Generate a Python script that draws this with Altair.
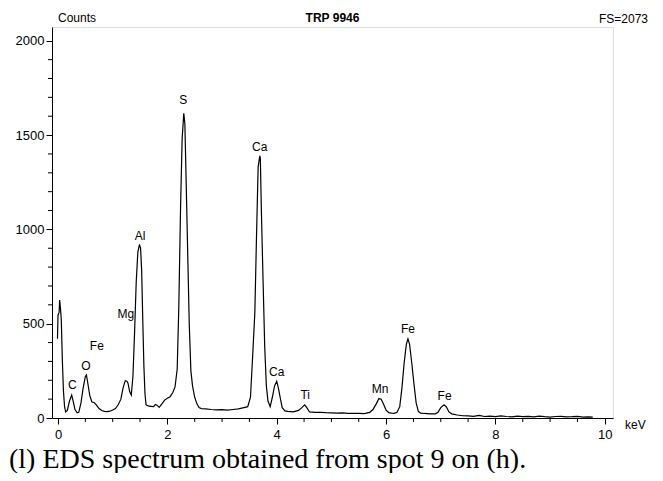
import altair as alt
import pandas as pd

# spectrum (keV, counts)
kev = [-0.01, 0.0, 0.02, 0.03, 0.045, 0.06, 0.08, 0.10, 0.12, 0.14, 0.17, 0.21, 0.25, 0.28, 0.31, 0.35,
       0.38, 0.42, 0.46, 0.50, 0.52, 0.55, 0.58, 0.62, 0.66, 0.70, 0.75, 0.80, 0.85, 0.90, 0.95, 1.00,
       1.05, 1.10, 1.15, 1.19, 1.23, 1.26, 1.28, 1.31, 1.34, 1.37, 1.40, 1.43, 1.46, 1.49, 1.51, 1.53,
       1.55, 1.57, 1.59, 1.61, 1.65, 1.70, 1.75, 1.78, 1.81, 1.85, 1.90, 1.95, 2.00, 2.05, 2.10, 2.14,
       2.18, 2.21, 2.24, 2.27, 2.30, 2.32, 2.34, 2.37, 2.40, 2.43, 2.46, 2.50, 2.54, 2.58, 2.62, 2.70,
       2.80, 2.90, 3.00, 3.10, 3.20, 3.30, 3.40, 3.47, 3.52, 3.56, 3.60, 3.63, 3.66, 3.69, 3.70, 3.72,
       3.75, 3.78, 3.81, 3.84, 3.88, 3.92, 3.96, 4.00, 4.03, 4.06, 4.10, 4.15, 4.20, 4.30, 4.40, 4.46,
       4.51, 4.55, 4.60, 4.70, 4.80, 4.90, 5.00, 5.10, 5.20, 5.30, 5.40, 5.50, 5.60, 5.70, 5.76, 5.82,
       5.87, 5.91, 5.95, 6.00, 6.05, 6.10, 6.15, 6.20, 6.25, 6.29, 6.33, 6.37, 6.40, 6.43, 6.47, 6.51,
       6.55, 6.59, 6.63, 6.70, 6.80, 6.90, 6.95, 7.00, 7.06, 7.10, 7.15, 7.20, 7.30, 7.40, 7.50, 7.60,
       7.70, 7.80, 7.90, 8.00, 8.10, 8.20, 8.30, 8.40, 8.50, 8.60, 8.70, 8.80, 8.90, 9.00, 9.10, 9.20,
       9.30, 9.40, 9.50, 9.60, 9.70, 9.78]
counts = [420, 545, 560, 625, 580, 520, 300, 140, 60, 32, 40, 90, 122, 85, 45, 28,
          30, 80, 160, 220, 228, 175, 120, 85, 82, 70, 50, 40, 35, 34, 36, 42,
          50, 70, 100, 160, 198, 195, 185, 140, 122, 220, 450, 720, 880, 920, 900, 780,
          520, 280, 130, 70, 64, 62, 60, 72, 68, 56, 75, 95, 105, 113, 135, 165,
          260, 600, 1100, 1480, 1615, 1560, 1300, 900, 500, 250, 170, 110, 75, 55, 50, 48,
          45, 43, 44, 42, 45, 48, 55, 60, 110, 330, 560, 960, 1330, 1390, 1380, 1090,
          730, 380, 170, 90, 60, 110, 170, 195, 160, 113, 55, 38, 35, 33, 40, 55,
          70, 55, 32, 30, 30, 28, 27, 26, 27, 25, 24, 24, 23, 30, 45, 75,
          103, 100, 75, 42, 28, 26, 25, 30, 60, 160, 290, 390, 420, 390, 290, 180,
          80, 35, 26, 24, 22, 22, 30, 55, 70, 60, 32, 22, 16, 12, 11, 9,
          14, 8, 10, 7, 11, 8, 6, 10, 7, 9, 6, 10, 7, 5, 8, 9,
          6, 7, 9, 5, 6, 5]

# element labels
el_names = ["C", "O", "Fe", "Mg", "Al", "S", "Ca", "Ca", "Ti", "Mn", "Fe", "Fe"]
el_kev = [0.26, 0.51, 0.71, 1.24, 1.50, 2.29, 3.69, 4.00, 4.52, 5.89, 6.40, 7.07]
el_cnt = [175, 276, 382, 552, 966, 1688, 1438, 246, 122, 152, 471, 117]

x_major = [0, 2, 4, 6, 8, 10]
x_minor = [0.5, 1, 1.5, 2.5, 3, 3.5, 4.5, 5, 5.5, 6.5, 7, 7.5, 8.5, 9, 9.5]
y_major = [0, 500, 1000, 1500, 2000]
y_minor = [100, 200, 300, 400, 600, 700, 800, 900, 1100, 1200, 1300, 1400,
           1600, 1700, 1800, 1900]

FONT = "Liberation Sans Narrow, Arial Narrow, Liberation Sans, sans-serif"
W, H = 561, 391

spec = pd.DataFrame({"keV": kev, "Counts": counts})
labels = pd.DataFrame({"name": el_names, "keV": el_kev, "Counts": el_cnt})

xs = alt.Scale(domain=[-0.11, 10.15], nice=False, zero=False)
ys = alt.Scale(domain=[0, 2073], nice=False, zero=True)

line = alt.Chart(spec).mark_line(color="black", strokeWidth=1.2).encode(
    x=alt.X("keV:Q", scale=xs,
            axis=alt.Axis(values=x_major, title=None, grid=False, tickSize=6, labelPadding=4,
                          format="d", labelFont=FONT, labelFontSize=13, labelColor="black",
                          tickColor="black", domainColor="black")),
    y=alt.Y("Counts:Q", scale=ys,
            axis=alt.Axis(values=y_major, title=None, grid=False, tickSize=6, labelPadding=2,
                          format="d", labelFont=FONT, labelFontSize=13, labelColor="black",
                          tickColor="black", domainColor="black")),
)

lab = alt.Chart(labels).mark_text(font=FONT, fontSize=12, color="black",
                                  align="center", baseline="middle").encode(
    x=alt.X("keV:Q", scale=xs), y=alt.Y("Counts:Q", scale=ys), text="name:N")

xminor = alt.Chart(pd.DataFrame({"v": x_minor})).mark_rule(color="black", strokeWidth=1).encode(
    x=alt.X("v:Q", scale=xs), y=alt.value(H), y2=alt.value(H + 4))
yminor = alt.Chart(pd.DataFrame({"v": y_minor})).mark_rule(color="black", strokeWidth=1).encode(
    y=alt.Y("v:Q", scale=ys), x=alt.value(0), x2=alt.value(-4))

one = alt.Data(values=[{"a": 1}])

def txt(s, x, y, align="left", size=12, weight="normal", font=FONT, baseline="middle"):
    return alt.Chart(one).mark_text(text=s, font=font, fontSize=size, fontWeight=weight,
                                    align=align, baseline=baseline, color="black").encode(
        x=alt.value(x), y=alt.value(y))

t_counts = txt("Counts", 6, -9)
t_title = txt("TRP 9946", W / 2, -9, align="center", weight="bold")
t_fs = txt("FS=2073", 596, -8, align="right")
t_kev = txt("keV", 573, 398)
t_cap = txt("(l) EDS spectrum obtained from spot 9 on (h).", -43, 441, size=28,
            font="Liberation Serif, Times New Roman, serif", baseline="alphabetic")

chart = alt.layer(line, lab, xminor, yminor, t_counts, t_title, t_fs, t_kev, t_cap).properties(
    width=W, height=H,
    autosize=alt.AutoSizeParams(type="none"),
    padding={"left": 44, "top": 19, "right": 42, "bottom": 55},
).configure_view(stroke="black", strokeWidth=1).configure(background="white")

chart.save("out.html", embed_options={"renderer": "svg", "actions": False})
